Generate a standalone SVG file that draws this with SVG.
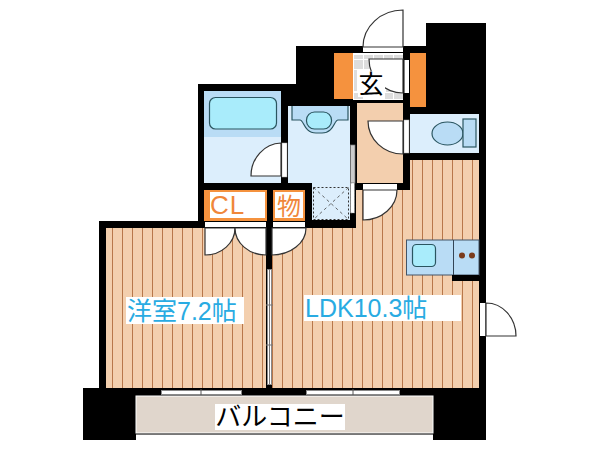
<svg xmlns="http://www.w3.org/2000/svg" width="600" height="450" viewBox="0 0 600 450">
<style>
.wall{fill:#000}
.floor{fill:url(#planks)}
.door{fill:#fff;stroke:#333;stroke-width:1.2}
.gap{fill:#fff}
.wet{fill:#dceefc}
.unit{fill:#b9dcf5}
.fix{stroke:#2a5560;stroke-width:1.2}
.water{fill:#a9ecfb}
.orange{fill:#f5923e}
.slide{fill:#fff;stroke:#888;stroke-width:1}
.tile{fill:#ddd}
.jp{font-family:"Liberation Sans","Noto Sans CJK JP",sans-serif}
.room{fill:#29abe2;font-size:25px}
.cl{fill:#f0873a;font-size:26px}
</style>
<defs>
<pattern id="planks" patternUnits="userSpaceOnUse" width="10" height="10">
<rect width="10" height="10" fill="#f3cfae"/>
<rect x="2" width="1" height="10" fill="#b8774a"/>
</pattern>
</defs>
<rect width="600" height="450" fill="#fff"/>
<path id="walls" class="wall" d="M296 46H426V23H486V440H83V388H99V221H198V84H296Z"/>
<g id="balcony">
<rect x="136" y="396" width="297" height="37" fill="#e0d6cc" stroke="#fff" stroke-width="1"/>
<rect x="136" y="435" width="297" height="5" fill="#fff"/>
<rect x="136" y="434" width="297" height="1" fill="#777"/>
<rect x="215" y="404" width="130" height="26" fill="#fff"/>
<text class="jp" x="280" y="426" font-size="26" text-anchor="middle" fill="#000">バルコニー</text>
</g>
<g id="western-room">
<rect class="floor" x="106" y="228" width="160" height="160"/>
<rect x="126" y="297" width="118" height="27" fill="#fff"/>
<text class="jp room" x="127" y="320">洋室7.2帖</text>
</g>
<g id="ldk">
<path class="floor" d="M272 228H356V190H410V160H479V388H272Z"/>
<rect x="304" y="295" width="157" height="26" fill="#fff"/>
<text class="jp room" x="305" y="317">LDK10.3帖</text>
</g>
<g id="kitchen">
<rect class="unit" x="406.500" y="240" width="72.500" height="35" stroke="#456" stroke-width="1"/>
<path d="M453.500 240V275" stroke="#345" stroke-width="1"/>
<rect class="water fix" x="412.500" y="244.500" width="23" height="22" rx="4"/>
<circle cx="462" cy="255.500" r="3" fill="#7a3b1c"/>
<circle cx="472" cy="255.500" r="3" fill="#7a3b1c"/>
<rect class="wall" x="452" y="275" width="27" height="6"/>
</g>
<g id="hall">
<rect x="357" y="103" width="46" height="80" fill="#f3cfae"/>
<rect class="gap" x="404" y="120" width="5" height="33" stroke="#aaa" stroke-width=".5"/>
<path class="door" d="M403 121H368A35 33 0 0 0 403 154Z"/>
</g>
<g id="entrance">
<rect x="353" y="53" width="50" height="47" fill="#fff"/>
<g class="tile">
<rect x="354" y="55" width="9" height="4"/><rect x="364" y="55" width="9" height="4"/><rect x="374" y="55" width="9" height="4"/><rect x="384" y="55" width="9" height="4"/><rect x="394" y="55" width="9" height="4"/>
<rect x="354" y="60" width="9" height="9"/><rect x="364" y="60" width="9" height="9"/>
<rect x="354" y="70" width="3" height="21"/>
<rect x="354" y="93" width="9" height="6"/><rect x="385" y="93" width="8" height="6"/><rect x="394" y="93" width="9" height="6"/><rect x="386" y="84" width="10" height="8"/>
</g>
<path class="door" d="M403 59H369A34 34 0 0 0 403 93Z" stroke-width="1"/>
<rect class="orange" x="334" y="53" width="19" height="46"/>
<rect class="orange" x="410" y="53" width="16" height="54"/>
<rect class="gap" x="404.500" y="60" width="4.500" height="33"/>
<rect class="gap" x="363" y="47" width="40" height="5"/>
<path class="door" d="M403 47H363A40 37 0 0 1 403 10Z"/>
<rect x="358" y="71" width="27" height="26" fill="#fff"/>
<text class="jp" x="371" y="93" font-size="25" text-anchor="middle" fill="#000">玄</text>
</g>
<g id="toilet">
<rect class="wet" x="410" y="114" width="69" height="39"/>
<ellipse class="unit fix" cx="447.500" cy="133.500" rx="15.500" ry="11.500"/>
<rect class="unit fix" x="463" y="119" width="13" height="28"/>
</g>
<g id="bath">
<rect class="wet" x="204" y="91" width="77" height="92"/>
<rect class="unit" x="204" y="91" width="77" height="46"/>
<rect class="water fix" x="209.500" y="97.500" width="67" height="31.500" rx="6"/>
<rect class="gap" x="282" y="143" width="5" height="34" stroke="#aaa" stroke-width=".5"/>
<path class="door" d="M281 143A31 33 0 0 0 251 176H281Z"/>
</g>
<g id="washroom">
<path class="wet" d="M288 106H350V220H312V183H288Z"/>
<path class="unit fix" stroke-width="1" d="M292 106V120H300C304 120 304 133 316 133H322C334 133 334 120 338 120H348V106"/>
<rect class="water fix" x="306.500" y="112" width="25" height="17" rx="8"/>
<rect x="313.500" y="187.500" width="35" height="32" fill="none" stroke="#333" stroke-width="1" stroke-dasharray="2 2"/>
<path d="M313.500 187.500L348.500 219.500M348.500 187.500L313.500 219.500" stroke="#444" stroke-width=".8" stroke-dasharray="3 3"/>
<rect x="350.500" y="145" width="4.500" height="38" fill="#ccc" stroke="#777" stroke-width=".7"/>
<rect x="350.500" y="183" width="4" height="30" fill="#fff" stroke="#888" stroke-width=".7" stroke-dasharray="2 1"/>
</g>
<g id="closet">
<rect class="orange" x="204" y="190" width="63" height="31"/>
<rect class="gap" x="210" y="192" width="55" height="26"/>
<text class="jp cl" x="210" y="214" letter-spacing="1">CL</text>
<rect class="gap" x="205" y="222" width="61" height="5"/>
<path class="door" d="M205 228V255A30 27 0 0 0 235 228Z"/>
<path class="door" d="M266 228V255A31 27 0 0 1 235 228Z"/>
</g>
<g id="storage">
<rect class="orange" x="273" y="190" width="32" height="31"/>
<rect class="gap" x="275" y="192" width="28" height="26"/>
<text class="jp cl" x="289" y="215" text-anchor="middle" style="font-size:24px">物</text>
<rect class="gap" x="273" y="222" width="32" height="5"/>
<path class="door" d="M272 228H306A34 27 0 0 1 272 255Z"/>
</g>
<g id="ldk-door">
<rect class="gap" x="363" y="184" width="34" height="6"/>
<path class="door" d="M363 190H397A34 30 0 0 1 363 220Z"/>
</g>
<g id="exterior-door">
<rect class="gap" x="480" y="303" width="5.500" height="33"/>
<path class="door" d="M486 336V303A30 33 0 0 1 516 336Z"/>
</g>
<g id="sliding-doors">
<rect class="slide" x="267.500" y="269.500" width="4" height="115"/>
<path d="M269.500 269V384M266 305H273M266 345H273" stroke="#777" stroke-width="1"/>
<rect class="slide" x="161.500" y="390.500" width="80" height="4"/>
<rect class="slide" x="306.500" y="390.500" width="93" height="4"/>
<path d="M201 389V395M353 389V395" stroke="#555" stroke-width="1"/>
</g>
</svg>
